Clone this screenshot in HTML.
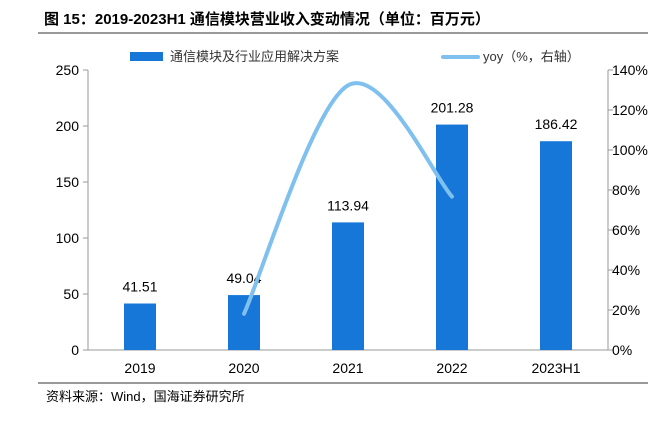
<!DOCTYPE html>
<html><head><meta charset="utf-8"><style>
body{margin:0;background:#fff;}
svg text{font-family:"Liberation Sans","Noto Sans CJK SC",sans-serif;}
</style></head><body>
<svg width="657" height="416" viewBox="0 0 657 416">
<text x="44" y="24" font-size="15" font-weight="bold" fill="#000">图 15：2019-2023H1 通信模块营业收入变动情况（单位：百万元）</text>
<line x1="38" y1="33" x2="648" y2="33" stroke="#333" stroke-width="1"/>
<g>
<rect x="130" y="52" width="33" height="9" fill="#1777d8"/>
<text x="170" y="61" font-size="13" fill="#333">通信模块及行业应用解决方案</text>
<line x1="443" y1="57" x2="478" y2="57" stroke="#7fc0ee" stroke-width="4" stroke-linecap="round"/>
<text x="483" y="61" font-size="13" fill="#333">yoy（%，右轴）</text>
</g>
<g id="plot"></g>
<line x1="38" y1="383" x2="648" y2="383" stroke="#333" stroke-width="1"/>
<text x="46" y="401" font-size="13" fill="#000">资料来源：Wind，国海证券研究所</text>
</svg>
<script>
const categories=["2019","2020","2021","2022","2023H1"];
const revenue=[41.51,49.04,113.94,201.28,186.42];
const revenueLabels=["41.51","49.04","113.94","201.28","186.42"];
const yoy=[null,18.1,132.3,76.7,null];
const leftTicks=[0,50,100,150,200,250];
const rightTicks=[0,20,40,60,80,100,120,140];
const ns="http://www.w3.org/2000/svg";
const g=document.getElementById('plot');
const X0=88,X1=608,Y0=350,Y1=70;
const band=(X1-X0)/categories.length;
const xc=i=>X0+band*(i+0.5);
const yL=v=>Y0-(v/250)*(Y0-Y1);
const yR=v=>Y0-(v/140)*(Y0-Y1);
function mk(t,a){const e=document.createElementNS(ns,t);for(const k in a)e.setAttribute(k,a[k]);g.appendChild(e);return e;}
let e;
e=mk('line',{x1:X0,y1:Y1,x2:X0,y2:Y0,stroke:'#999'});


e=mk('line',{x1:X1,y1:Y1,x2:X1,y2:Y0,stroke:'#999'});


e=mk('line',{x1:X0,y1:Y0,x2:X1,y2:Y0,stroke:'#999'});


leftTicks.forEach(v=>{
 mk('line',{x1:X0-5,y1:yL(v),x2:X0,y2:yL(v),stroke:'#999'});
 e=mk('text',{x:X0-9,y:yL(v)+5,'font-size':14,'text-anchor':'end',fill:'#000'});e.textContent=v;
 
 
});
rightTicks.forEach(v=>{
 mk('line',{x1:X1,y1:yR(v),x2:X1+5,y2:yR(v),stroke:'#999'});
 e=mk('text',{x:X1+4,y:yR(v)+5,'font-size':14,fill:'#000'});e.textContent=v+'%';
 
 
});
categories.forEach((c,i)=>{
 e=mk('rect',{x:xc(i)-16,y:yL(revenue[i]),width:32,height:Y0-yL(revenue[i]),fill:'#1777d8'});
 
 
 e=mk('text',{x:xc(i),y:yL(revenue[i])-12,'font-size':14,'text-anchor':'middle',fill:'#000'});e.textContent=revenueLabels[i];
 
 
 e=mk('text',{x:xc(i),y:373,'font-size':14,'text-anchor':'middle',fill:'#000'});e.textContent=c;
 
 
});
const pts=[];yoy.forEach((v,i)=>{if(v!==null)pts.push([xc(i),yR(v)]);});
let d='M'+pts[0][0]+','+pts[0][1];
for(let i=0;i<pts.length-1;i++){
 const p0=pts[i-1]||pts[i],p1=pts[i],p2=pts[i+1],p3=pts[i+2]||p2;
 const t=0.5/3*2;
 const c1=[p1[0]+(p2[0]-p0[0])*t/2,p1[1]+(p2[1]-p0[1])*t/2];
 const c2=[p2[0]-(p3[0]-p1[0])*t/2,p2[1]-(p3[1]-p1[1])*t/2];
 d+=' C'+c1+' '+c2+' '+p2;
}
e=mk('path',{d:d,fill:'none',stroke:'#7fc0ee','stroke-width':4,'stroke-linecap':'round'});


</script>
</body></html>
